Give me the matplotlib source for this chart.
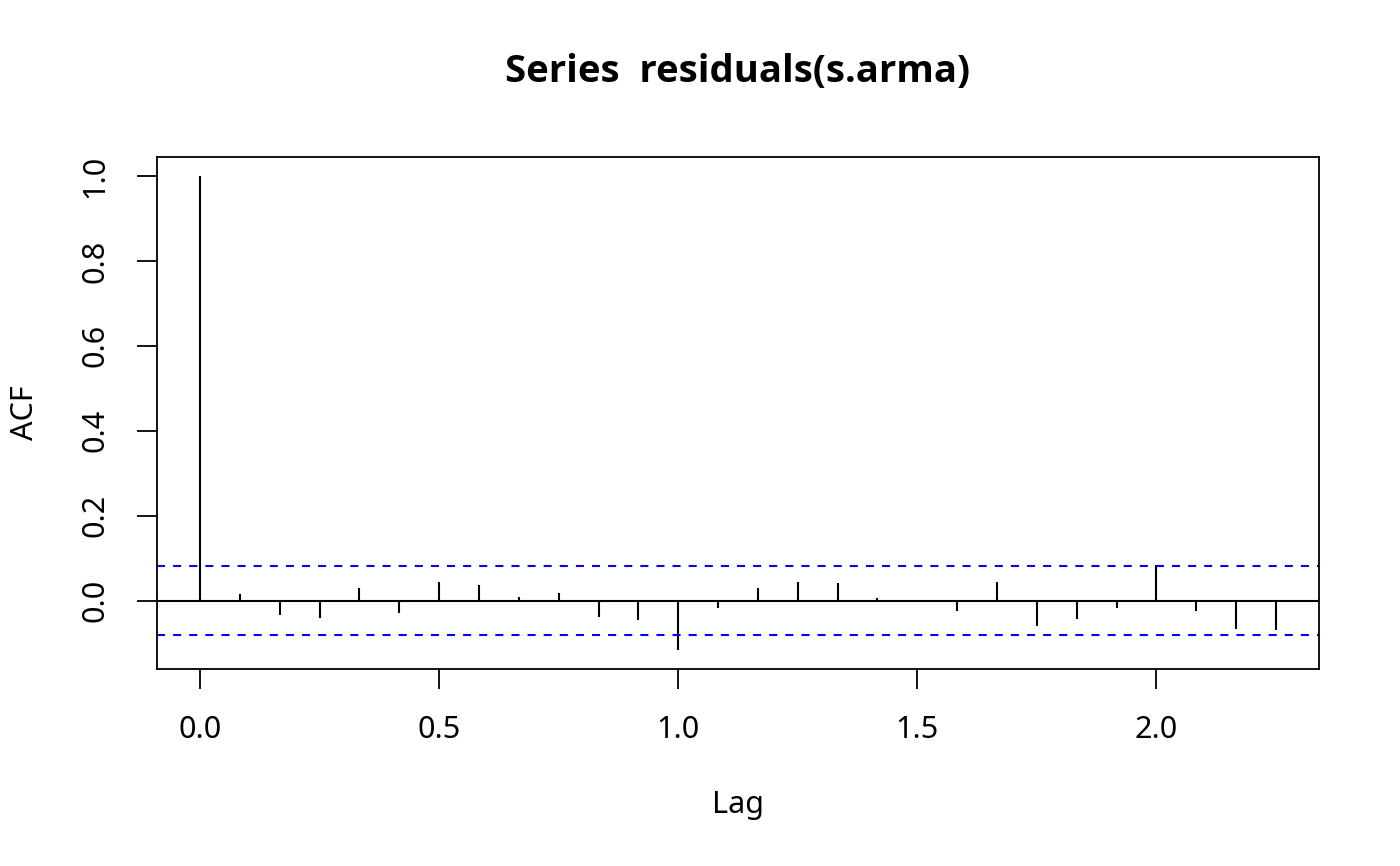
import matplotlib

matplotlib.use("Agg")
import matplotlib.pyplot as plt

# lags in years (monthly series, lag k/12)
lags = [k / 12 for k in range(28)]
acf_vals = [
    1.0, 0.017, -0.033, -0.041, 0.030, -0.028, 0.045, 0.037, 0.010, 0.019,
    -0.038, -0.045, -0.116, -0.016, 0.030, 0.045, 0.041, 0.006, 0.002, -0.023,
    0.043, -0.059, -0.043, -0.018, 0.084, -0.023, -0.066, -0.069,
]
clim = 0.081
x_ticks = [0.0, 0.5, 1.0, 1.5, 2.0]
y_ticks = [0.0, 0.2, 0.4, 0.6, 0.8, 1.0]

plt.rcParams["font.family"] = ["Noto Sans", "DejaVu Sans"]
plt.rcParams["lines.scale_dashes"] = False

fig = plt.figure(figsize=(14, 8.66), dpi=100)
ax = fig.add_axes([157 / 1400, 1 - 669 / 866, (1319 - 157) / 1400, (669 - 157) / 866])

ax.vlines(lags, 0, acf_vals, color="black", linewidth=1.5)
ax.axhline(0, color="black", linewidth=1.5)
for c in (clim, -clim):
    ax.axhline(c, color="#0000FF", linewidth=1.5, linestyle=(0, (5.8, 5.8)))

span_x = max(lags) - min(lags)
ax.set_xlim(min(lags) - 0.04 * span_x, max(lags) + 0.04 * span_x)
ymin = min(min(acf_vals), -clim)
ymax = max(max(acf_vals), clim)
span_y = ymax - ymin
ax.set_ylim(ymin - 0.04 * span_y, ymax + 0.04 * span_y)

ax.set_xticks(x_ticks)
ax.set_xticklabels([f"{t:.1f}" for t in x_ticks])
ax.set_yticks(y_ticks)
ax.set_yticklabels([f"{t:.1f}" for t in y_ticks], rotation=90, va="center")
ax.tick_params(direction="out", length=14.4, width=1.3, labelsize=22, pad=19)
for sp in ax.spines.values():
    sp.set_linewidth(1.3)

ax.set_title("Series  residuals(s.arma)", fontsize=27.5, fontweight="bold",
             family=["Open Sans", "DejaVu Sans"], pad=54)
fig.text(738 / 1400, 1 - 805 / 866, "Lag", fontsize=22, ha="center", va="center")
fig.text(25 / 1400, 1 - 413 / 866, "ACF", fontsize=22, ha="center", va="center", rotation=90)

fig.savefig("out.png", dpi=100)
